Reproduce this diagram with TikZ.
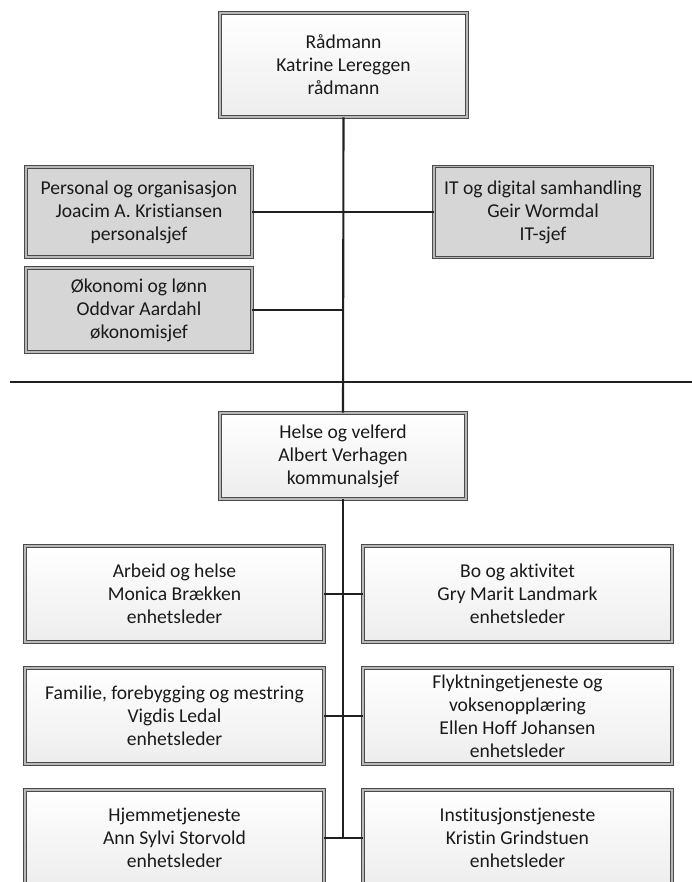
\documentclass[tikz,border=0pt]{standalone}
\usepackage{fontspec}
\setmainfont[Ligatures=NoCommon]{Carlito}
\usetikzlibrary{shadows}
\definecolor{txt}{HTML}{1A1A1A}
\definecolor{frame}{HTML}{4A4A4A}
\definecolor{gap}{HTML}{B8B8B8}
\definecolor{greyfill}{HTML}{D6D6D6}
\definecolor{conn}{HTML}{202020}
\tikzset{
  orgbox/.style={rectangle, draw=frame, line width=0.95pt, double=gap, double distance=1.6pt,
    align=center, inner sep=0pt, text=txt,
    font=\fontsize{19.6}{23}\selectfont,
    drop shadow={shadow xshift=1.8pt, shadow yshift=-1.8pt, fill=black, opacity=0.3}},
  whitebox/.style={orgbox, top color=white, bottom color=black!7},
  greybox/.style={orgbox, fill=greyfill},
  conline/.style={draw=conn, line width=1.4pt},
  vline/.style={draw=conn, line width=2.1pt}
}
\begin{document}
\begin{tikzpicture}[x=1pt,y=-1pt]
\useasboundingbox (0,0) rectangle (692,882);
% top
\node[whitebox, minimum width=247pt, minimum height=104pt] (top) at (343.5,65) {Rådmann\\Katrine Lereggen\\rådmann};
% staff
\node[greybox, minimum width=226pt, minimum height=90pt] (pers) at (139,212) {Personal og organisasjon\\Joacim A. Kristiansen\\personalsjef};
\node[greybox, minimum width=226pt, minimum height=84pt] (oko) at (139,310) {Økonomi og lønn\\Oddvar Aardahl\\økonomisjef};
\node[greybox, minimum width=218pt, minimum height=91pt] (it) at (543,212) {IT og digital samhandling\\Geir Wormdal\\IT-sjef};
% middle
\node[whitebox, minimum width=246pt, minimum height=86pt] (helse) at (343,456) {Helse og velferd\\Albert Verhagen\\kommunalsjef};
% units
\node[whitebox, minimum width=299pt, minimum height=96pt] (arb) at (174.5,594) {Arbeid og helse\\Monica Brækken\\enhetsleder};
\node[whitebox, minimum width=309pt, minimum height=96pt] (bo) at (517.5,594) {Bo og aktivitet\\Gry Marit Landmark\\enhetsleder};
\node[whitebox, minimum width=299pt, minimum height=96pt] (fam) at (174.5,716) {Familie, forebygging og mestring\\Vigdis Ledal\\enhetsleder};
\node[whitebox, minimum width=309pt, minimum height=96pt] (fly) at (517.5,716) {Flyktningetjeneste og\\voksenopplæring\\Ellen Hoff Johansen\\enhetsleder};
\node[whitebox, minimum width=299pt, minimum height=96pt] (hje) at (174.5,838) {Hjemmetjeneste\\Ann Sylvi Storvold\\enhetsleder};
\node[whitebox, minimum width=309pt, minimum height=96pt] (ins) at (517.5,838) {Institusjonstjeneste\\Kristin Grindstuen\\enhetsleder};
% coordinates
\coordinate (okoj) at (343,310);
\coordinate (ll) at (10,382);
\coordinate (lr) at (692,382);
\coordinate (bot) at (343,838);
% connectors
\draw[conline] (pers.east) -- (pers.east -| it.west);
\draw[conline] (oko.east) -- (okoj);
\draw[conline] (ll) -- (lr);
\draw[conline] (arb.east) -- (bo.west);
\draw[conline] (fam.east) -- (fly.west);
\draw[conline] (hje.east) -- (ins.west);
\draw[vline] (top.south) -- (helse.north);
\draw[vline] (helse.south) -- (bot);
\end{tikzpicture}
\end{document}
